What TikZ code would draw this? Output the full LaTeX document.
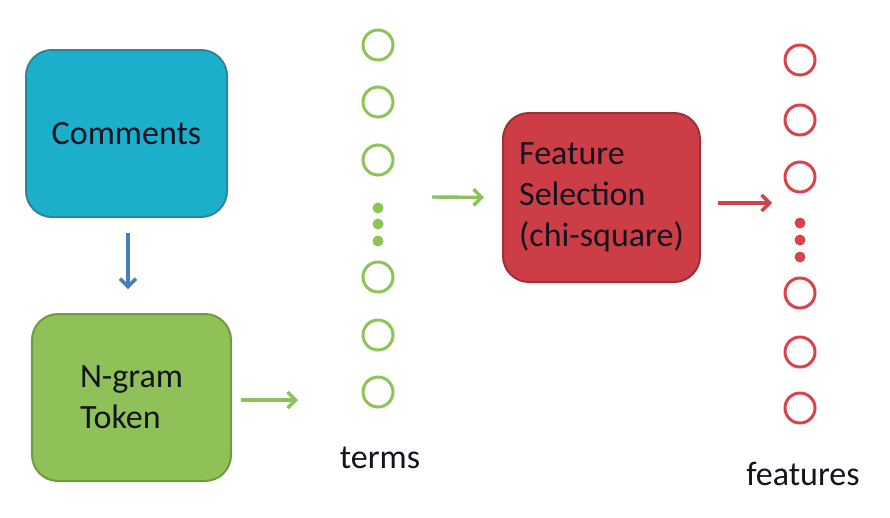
\documentclass[tikz,border=0pt]{standalone}
\usepackage{fontspec}
\setmainfont{Carlito}
\usetikzlibrary{arrows.meta}
\definecolor{cfill}{HTML}{1CAFCB}
\definecolor{cdraw}{HTML}{2D8597}
\definecolor{gfill}{HTML}{8FC158}
\definecolor{gdraw}{HTML}{6F9B40}
\definecolor{rfill}{HTML}{CD3D45}
\definecolor{rdraw}{HTML}{9E2F35}
\definecolor{barrow}{HTML}{4A7EBB}
\definecolor{garrow}{HTML}{8CC25A}
\definecolor{rarrow}{HTML}{CB454C}
\definecolor{gring}{HTML}{8DC455}
\definecolor{rring}{HTML}{D9444C}
\definecolor{txt}{HTML}{141420}
\tikzset{
  x=1pt,y=-1pt,
  lbl/.style={font=\fontsize{34}{41}\selectfont, text=txt, align=left, inner sep=0pt},
  box/.style={rounded corners=26pt, line width=2pt, minimum width=#1, lbl},
  ring/.style={circle, draw=#1, line width=3pt, minimum size=30pt, inner sep=0pt},
  dotn/.style={circle, fill=#1, minimum size=11pt, inner sep=0pt},
  arr/.style={draw=#1, line width=3.4pt, -{Straight Barb[length=8pt,width=16pt]}},
}
\begin{document}
\begin{tikzpicture}
\useasboundingbox[fill=white] (0,0) rectangle (890,517);
% boxes
\node[box=201pt, minimum height=167pt, fill=cfill, draw=cdraw] (comments) at (126.5,133.5) {Comments};
\node[box=199pt, minimum height=167pt, fill=gfill, draw=gdraw] (ngram) at (131.5,397.5) {N-gram\\Token};
\node[box=197pt, minimum height=169pt, fill=rfill, draw=rdraw] (feature) at (601.5,197.5) {Feature\\Selection\\(chi-square)};
% terms column
\foreach \i/\y in {1/45,2/102,3/160,4/277,5/335,6/392}
  \node[ring=gring] (t\i) at (378,\y) {};
\foreach \i/\y in {1/208,2/224,3/241}
  \node[dotn=gring] (td\i) at (378,\y) {};
\node[lbl] (terms) at (380,458) {terms};
% features column
\foreach \i/\y in {1/60,2/120,3/177,4/293,5/352,6/408}
  \node[ring=rring] (f\i) at (800,\y) {};
\foreach \i/\y in {1/223,2/240,3/257}
  \node[dotn=rring] (fd\i) at (800,\y) {};
\node[lbl] (features) at (803,474) {features};
% connector end points
\coordinate (a2e) at (298,400);
\coordinate (a3s) at (432,197);
\coordinate (a4s) at (718,203);
\coordinate (a4e) at (772,203);
% connectors
\draw[arr=barrow, shorten <=15pt, shorten >=24pt] (comments.south -| 128,0) -- (ngram.north -| 128,0);
\draw[arr=garrow, shorten <=9pt] (ngram.east |- a2e) -- (a2e);
\draw[arr=garrow, shorten >=18pt] (a3s) -- (feature.west);
\draw[arr=rarrow] (a4s) -- (a4e);
\end{tikzpicture}
\end{document}
